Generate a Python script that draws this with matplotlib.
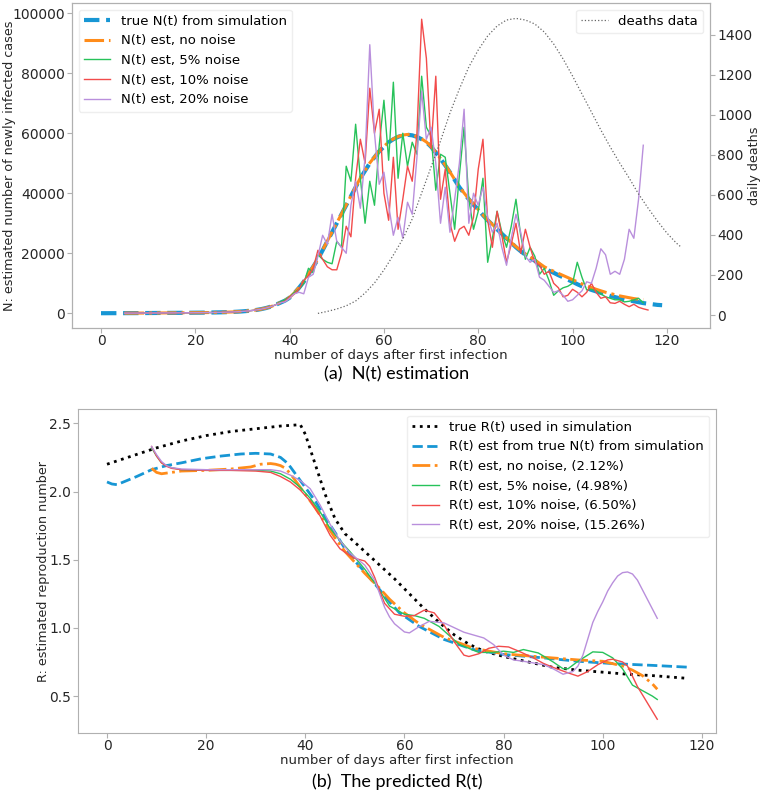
import numpy as np
import matplotlib
matplotlib.use('Agg')
import matplotlib.pyplot as plt

# ---------------- data: panel (a) ----------------
# true N(t) from simulation, thousands of cases, days 0..119
n_true_k = [0.03, 0.03, 0.04, 0.04, 0.05, 0.05, 0.06, 0.06, 0.07, 0.08,
            0.09, 0.10, 0.11, 0.12, 0.13, 0.14, 0.15, 0.16, 0.17, 0.18,
            0.20, 0.21, 0.23, 0.25, 0.28, 0.31, 0.35, 0.40, 0.46, 0.54,
            0.64, 0.77, 0.93, 1.13, 1.40, 1.75, 2.2, 2.8, 3.5, 4.2,
            5.2, 6.7, 8.5, 10.5, 13.0, 15.5, 18.0, 21.0, 24.0, 27.0,
            30.0, 33.0, 36.0, 39.0, 42.0, 45.0, 47.5, 50.0, 52.0, 54.0,
            55.5, 57.0, 58.0, 58.8, 59.3, 59.5, 59.3, 58.8, 58.0, 57.0,
            55.5, 53.5, 51.5, 49.3, 47.0, 44.5, 42.0, 40.0, 38.0, 36.2,
            34.5, 32.7, 31.0, 29.5, 28.0, 26.5, 25.0, 23.5, 22.0, 20.7,
            19.5, 18.5, 17.5, 16.2, 15.0, 14.2, 13.5, 12.7, 12.0, 11.2,
            10.5, 9.7, 9.0, 8.4, 7.8, 7.3, 6.8, 6.3, 5.8, 5.4,
            5.0, 4.6, 4.3, 4.0, 3.7, 3.4, 3.2, 3.0, 2.8, 2.7]

# N(t) estimates, thousands, from day 38 on (earlier days follow the truth)
n_nonoise_tail_k = [3.6, 4.3, 5.3, 6.8, 8.6, 10.6, 13.1, 15.6, 18.1, 21.1,
                    24.1, 27.1, 30.1, 33.1, 36.1, 39.1, 42.1, 45.1, 47.6, 50.1,
                    52.1, 54.1, 55.6, 57.1, 58.1, 58.9, 59.4, 59.6, 59.4, 58.9,
                    58.1, 57.1, 55.6, 53.6, 51.6, 49.4, 47.1, 44.6, 42.1, 40.1,
                    38.1, 36.3, 34.6, 32.8, 31.1, 29.6, 28.1, 26.6, 25.1, 23.6,
                    22.2, 20.9, 19.8, 18.8, 17.8, 16.6, 15.5, 14.7, 14.0, 13.3,
                    12.6, 11.9, 11.2, 10.5, 9.8, 9.2, 8.6, 8.0, 7.5, 7.0,
                    6.6, 6.2, 5.8, 5.5, 5.2, 4.9, 4.7, 4.6]
n_5pct_tail_k = [3.8, 4.5, 5.5, 7.0, 8.0, 10.0, 15.0, 13.5, 19.5, 18.0,
                 17.0, 16.5, 24.0, 22.0, 49.0, 44.0, 63.0, 45.0, 30.0, 44.0,
                 36.0, 56.0, 71.0, 51.0, 77.0, 45.0, 60.0, 49.0, 57.0, 53.0,
                 79.0, 62.0, 59.0, 41.0, 53.0, 52.0, 40.0, 28.0, 46.0, 62.0,
                 38.0, 28.0, 34.0, 45.0, 17.0, 25.0, 34.0, 27.0, 22.0, 29.0,
                 38.0, 26.0, 18.0, 22.0, 19.0, 13.0, 15.0, 11.0, 6.0, 7.5,
                 8.5, 9.0, 10.0, 17.0, 12.0, 7.8, 8.0, 7.5, 6.5, 5.5,
                 5.0, 4.5, 4.5, 3.8, 4.0, 4.5, 5.0, 3.5]
n_10pct_tail_k = [3.5, 4.0, 5.5, 6.5, 8.0, 11.0, 12.5, 15.0, 21.0, 18.0,
                  15.5, 14.5, 14.5, 20.0, 29.0, 25.5, 45.0, 58.0, 50.0, 75.0,
                  60.0, 68.0, 40.0, 31.0, 52.0, 28.0, 38.0, 49.0, 44.0, 60.0,
                  98.0, 85.0, 55.0, 79.0, 38.0, 48.0, 30.0, 24.0, 28.0, 29.0,
                  26.0, 32.0, 48.0, 58.0, 31.0, 22.0, 34.0, 26.0, 17.0, 23.0,
                  30.0, 20.0, 28.0, 22.0, 17.0, 16.0, 13.0, 14.0, 10.0, 8.5,
                  5.5, 6.0, 8.0, 7.0, 5.5, 7.0, 10.0, 7.0, 5.0, 5.5,
                  3.5, 3.3, 4.0, 3.0, 2.2, 3.0, 2.0, 1.5, 1.1]
n_20pct_tail_k = [3.5, 3.8, 5.0, 6.5, 7.0, 6.5, 12.0, 13.0, 19.0, 26.0,
                  23.0, 33.0, 24.0, 22.0, 20.0, 36.0, 44.0, 35.0, 52.0, 89.5,
                  60.0, 43.0, 47.0, 36.0, 26.0, 32.0, 25.0, 37.0, 33.0, 52.0,
                  74.0, 58.0, 62.0, 50.0, 30.0, 42.0, 27.0, 38.0, 50.0, 68.0,
                  30.0, 40.0, 36.0, 42.0, 32.0, 27.0, 30.0, 22.0, 16.0, 25.0,
                  33.0, 27.0, 19.0, 17.0, 18.0, 12.0, 11.0, 9.0, 7.0, 7.5,
                  6.0, 4.0, 4.5, 6.0, 7.5, 10.5, 10.0, 15.0, 21.5, 19.5,
                  13.0, 14.0, 13.0, 18.0, 28.0, 25.0, 38.0, 56.0]

death_days = [46, 48, 50, 52, 54, 56, 58, 60, 62, 64, 66, 68, 70, 72, 74, 76, 78,
              80, 82, 84, 86, 88, 90, 92, 94, 96, 98, 100, 102, 104, 106, 108,
              110, 112, 114, 116, 118, 120, 122, 123]
deaths = [8, 18, 30, 46, 70, 110, 160, 225, 300, 380, 480, 610, 740, 870, 1010,
          1130, 1240, 1325, 1395, 1445, 1475, 1483, 1475, 1455, 1415, 1355, 1280,
          1195, 1105, 1015, 925, 840, 760, 685, 605, 535, 470, 410, 360, 340]

# ---------------- data: panel (b) ----------------
r_true_days = [0, 5, 10, 15, 20, 25, 30, 35, 39, 40, 42, 44, 46, 48, 49, 52, 55,
               58, 61, 64, 67, 70, 73, 76, 80, 85, 90, 95, 100, 105, 110, 117]
r_true = [2.20, 2.26, 2.32, 2.37, 2.41, 2.44, 2.46, 2.48, 2.49, 2.42, 2.20, 1.98,
          1.80, 1.69, 1.66, 1.56, 1.46, 1.36, 1.25, 1.14, 1.04, 0.95, 0.88, 0.83,
          0.79, 0.75, 0.71, 0.69, 0.675, 0.66, 0.65, 0.63]

r_sim_days = [0, 1, 2, 4, 6, 9, 12, 15, 19, 23, 27, 30, 33, 35, 36, 37, 38, 39,
              40, 41, 42, 44, 46, 48, 50, 52, 55, 57, 59, 63, 68, 74, 80, 88, 95,
              102, 110, 117]
r_sim = [2.07, 2.055, 2.05, 2.08, 2.11, 2.16, 2.19, 2.21, 2.24, 2.26, 2.275, 2.28,
         2.275, 2.25, 2.22, 2.18, 2.13, 2.08, 2.03, 1.98, 1.93, 1.81, 1.70, 1.58,
         1.49, 1.41, 1.28, 1.19, 1.11, 1.01, 0.915, 0.84, 0.805, 0.78, 0.755,
         0.738, 0.725, 0.712]

r_nonoise_days = [9, 10, 11, 13, 15, 20, 25, 29, 31, 33, 34, 35, 36, 37, 38, 39,
                  40, 42, 44, 46, 48, 50, 52, 55, 57, 60, 63, 68, 74, 80, 88, 95,
                  100, 104, 106, 108, 110, 111]
r_nonoise = [2.17, 2.14, 2.13, 2.14, 2.15, 2.155, 2.165, 2.18, 2.2, 2.205, 2.2,
             2.19, 2.17, 2.13, 2.08, 2.03, 1.98, 1.88, 1.77, 1.66, 1.56, 1.48,
             1.40, 1.29, 1.21, 1.11, 1.03, 0.93, 0.85, 0.81, 0.785, 0.765, 0.755,
             0.72, 0.69, 0.65, 0.59, 0.55]

r_5pct_days = [9, 10, 11, 12, 13, 15, 20, 25, 30, 33, 35, 37, 39, 41, 43, 45, 47,
               49, 52, 54, 57, 60, 62, 64, 67, 71, 75, 78, 80, 82, 84, 87, 90, 92,
               93, 95, 98, 100, 102, 104, 106, 108, 110, 111]
r_5pct = [2.32, 2.26, 2.21, 2.19, 2.175, 2.16, 2.155, 2.155, 2.155, 2.15, 2.13,
          2.09, 2.03, 1.95, 1.85, 1.73, 1.64, 1.56, 1.43, 1.33, 1.16, 1.10, 1.09,
          1.07, 1.01, 0.88, 0.82, 0.82, 0.829, 0.82, 0.841, 0.816, 0.75, 0.70,
          0.70, 0.755, 0.824, 0.82, 0.78, 0.70, 0.58, 0.54, 0.50, 0.475]

r_10pct_days = [9, 10, 11, 12, 13, 15, 20, 25, 30, 33, 35, 37, 39, 41, 43, 45, 47,
                49, 50, 52, 53, 54, 55, 56, 58, 60, 62, 64, 66, 68, 70, 72, 73, 75,
                77, 79, 81, 83, 86, 88, 90, 93, 95, 97, 99, 101, 102, 104, 105,
                107, 109, 111]
r_10pct = [2.33, 2.26, 2.21, 2.185, 2.17, 2.16, 2.155, 2.155, 2.15, 2.14, 2.11,
           2.07, 2.01, 1.93, 1.82, 1.68, 1.58, 1.53, 1.51, 1.49, 1.45, 1.37,
           1.27, 1.18, 1.10, 1.085, 1.09, 1.13, 1.11, 1.02, 0.90, 0.80, 0.79,
           0.81, 0.85, 0.865, 0.86, 0.83, 0.78, 0.74, 0.71, 0.67, 0.646, 0.68,
           0.73, 0.765, 0.77, 0.75, 0.72, 0.57, 0.45, 0.33]

r_20pct_days = [9, 10, 11, 12, 13, 15, 20, 25, 30, 33, 35, 37, 39, 41, 43, 45, 47,
                49, 52, 54, 56, 57, 58, 60, 61, 63, 65, 68, 72, 76, 78, 80, 82, 84,
                88, 90, 92, 94, 95, 96, 97, 98, 99, 100, 101, 102, 103, 104, 105,
                106, 107, 108, 109, 110, 111]
r_20pct = [2.33, 2.27, 2.22, 2.19, 2.175, 2.165, 2.16, 2.16, 2.16, 2.16, 2.15,
           2.12, 2.08, 2.02, 1.90, 1.76, 1.64, 1.55, 1.46, 1.35, 1.15, 1.08,
           1.03, 0.97, 0.963, 1.01, 1.048, 1.036, 0.968, 0.926, 0.877, 0.80,
           0.765, 0.755, 0.731, 0.70, 0.66, 0.68, 0.72, 0.80, 0.92, 1.04, 1.12,
           1.19, 1.27, 1.33, 1.38, 1.405, 1.41, 1.395, 1.35, 1.28, 1.21, 1.14,
           1.07]

# ---------------- styles ----------------
c_blue = '#1796d4'
c_orange = '#ff8c1a'
c_green = '#27c25a'
c_red = '#f24b4b'
c_purple = '#b98fdc'
c_spine = '#b0b0b0'
c_text = '#262626'
fs_tick = 10
fs_lab = 9.5
fs_ylab = 9.2
fs_leg = 9.5

n_true = np.array(n_true_k) * 1000
days_true = np.arange(len(n_true))
early = n_true[5:38]
n_nonoise = np.concatenate([early, np.array(n_nonoise_tail_k) * 1000])
n_5pct = np.concatenate([early, np.array(n_5pct_tail_k) * 1000])
n_10pct = np.concatenate([early, np.array(n_10pct_tail_k) * 1000])
n_20pct = np.concatenate([early, np.array(n_20pct_tail_k) * 1000])


def style_axes(ax):
    for sp in ax.spines.values():
        sp.set_color(c_spine)
    ax.tick_params(colors=c_spine, labelcolor=c_text, labelsize=fs_tick, length=3.5)
    ax.tick_params(axis='x', pad=0.8)
    ax.tick_params(axis='y', pad=1.5)


fig = plt.figure(figsize=(7.66, 7.91), dpi=100)

# ---- panel (a) ----
ax1 = fig.add_axes([72 / 766, 1 - 328 / 791, 638 / 766, 325 / 791])
ax1.plot(days_true, n_true, '--', color=c_blue, lw=3, label='true N(t) from simulation')
ax1.plot(np.arange(5, 5 + len(n_nonoise)), n_nonoise, '-.', color=c_orange, lw=2.2,
         label='N(t) est, no noise')
ax1.plot(np.arange(5, 5 + len(n_5pct)), n_5pct, '-', color=c_green, lw=1,
         label='N(t) est, 5% noise')
ax1.plot(np.arange(5, 5 + len(n_10pct)), n_10pct, '-', color=c_red, lw=1,
         label='N(t) est, 10% noise')
ax1.plot(np.arange(5, 5 + len(n_20pct)), n_20pct, '-', color=c_purple, lw=1,
         label='N(t) est, 20% noise')
ax1.set_xlim(-6.15, 129.15)
ax1.set_ylim(-4900, 103400)
ax1.set_xticks([0, 20, 40, 60, 80, 100, 120])
ax1.set_yticks([0, 20000, 40000, 60000, 80000, 100000])
ax1.set_xlabel('number of days after first infection', fontsize=fs_lab, color=c_text, labelpad=0.5)
ax1.set_ylabel('N: estimated number of newly infected cases', fontsize=fs_ylab, color=c_text)
ax1.yaxis.set_label_coords(-0.087, 0.5)
ax1.legend(loc='upper left', fontsize=fs_leg, framealpha=1, edgecolor='#eeeeee')
style_axes(ax1)

ax2 = ax1.twinx()
ax2.plot(death_days, deaths, ':', color='#666666', lw=0.9, label='deaths data')
ax2.set_ylim(-65, 1560)
ax2.set_yticks([0, 200, 400, 600, 800, 1000, 1200, 1400])
ax2.set_ylabel('daily deaths', fontsize=fs_ylab, color=c_text)
ax2.yaxis.set_label_coords(1.06, 0.5)
ax2.legend(loc='upper right', fontsize=fs_leg, framealpha=1, edgecolor='#eeeeee')
style_axes(ax2)

fig.text(397 / 766, 1 - 374 / 791, '(a)  N(t) estimation', ha='center', va='center',
         fontsize=13, family='Lato', color='black')

# ---- panel (b) ----
ax3 = fig.add_axes([78 / 766, 1 - 733 / 791, 638 / 766, 324 / 791])
ax3.plot(r_true_days, r_true, ':', color='black', lw=2, label='true R(t) used in simulation')
ax3.plot(r_sim_days, r_sim, '--', color=c_blue, lw=2,
         label='R(t) est from true N(t) from simulation')
ax3.plot(r_nonoise_days, r_nonoise, '-.', color=c_orange, lw=2,
         label='R(t) est, no noise, (2.12%)')
ax3.plot(r_5pct_days, r_5pct, '-', color=c_green, lw=1, label='R(t) est, 5% noise, (4.98%)')
ax3.plot(r_10pct_days, r_10pct, '-', color=c_red, lw=1, label='R(t) est, 10% noise, (6.50%)')
ax3.plot(r_20pct_days, r_20pct, '-', color=c_purple, lw=1,
         label='R(t) est, 20% noise, (15.26%)')
ax3.set_xlim(-5.85, 122.85)
ax3.set_ylim(0.229, 2.605)
ax3.set_xticks([0, 20, 40, 60, 80, 100, 120])
ax3.set_yticks([0.5, 1.0, 1.5, 2.0, 2.5])
ax3.set_xlabel('number of days after first infection', fontsize=fs_lab, color=c_text, labelpad=0.5)
ax3.set_ylabel('R: estimated reproduction number', fontsize=fs_ylab, color=c_text)
ax3.yaxis.set_label_coords(-0.044, 0.5)
ax3.legend(loc='upper right', fontsize=fs_leg, framealpha=1, edgecolor='#eeeeee')
style_axes(ax3)

fig.text(397 / 766, 1 - 782 / 791, '(b)  The predicted R(t)', ha='center', va='center',
         fontsize=13, family='Lato', color='black')

fig.savefig('out.png', dpi=100)
